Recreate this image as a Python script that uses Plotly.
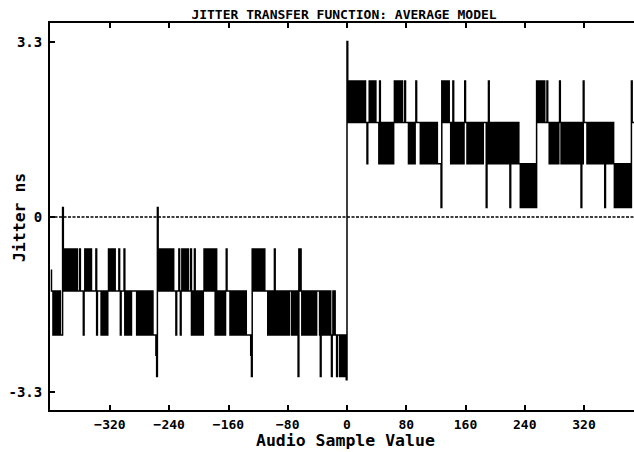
import plotly.graph_objects as go

# ---- data -------------------------------------------------------------------
# jitter levels (ns) seen in the chart, addressed by one-letter codes
level_codes = ["P", "T", "M", "W", "Z", "S", "C", "U", "B", "L", "D", "X", "Y"]
level_values = [3.30, 2.56, 1.78, 1.00, 0.18, 0.18, -1.00, -0.60, -1.39, -2.22, -2.60, -3.00, -3.06]

first_sample = -400  # audio sample value of the first point

# one code per audio sample value, block by block (16 samples per row)
block_m400 = "CBBLBLBLBLBLBLLL"
block_m384 = ("SUBUBUBUBUBUBUBU" "BUBUBBBUBBBBLBUB" "UBUBUBUBBBBBBULB" "BBBBLBLBLBLBLBUB"
              "UBUBUBUBBBBBUBLB" "BBBULBLBLBLBLBBB" "BBBBLBLBLBBLBLBL" "BLBLBBLBLBLLLLDX")
block_m256 = ("SUBUBUBUBUBUBUBU" "BUBUBUBBBLBBBUBL" "BUBUBUBUBUBBBULB" "LBULBLBLBLBLBLBU"
              "BUBUBUBUBUBBUBLU" "BLBLBLBLBLBLBUBB" "BBLBLBLBBLBLBLBL" "BLBBLBLBLLLLLLDX")
block_m128 = ("UUBUBUBUBUBBUBUB" "UBBBBLBLBLBLBLUB" "LBLBLBBLBLBLBLBL" "BLBBBLBLBLBLBLXU"
              "BUBLBLBLBLBLBBLB" "LBLBLBLBBBBLXBLB" "LBLBLBLBLBLXLBLB" "LLXLLLXLXLXLXLXY")
block_p000 = ("PTMTMTMTMTMTMTMT" "MTMTMTMMTMMWMMTM" "TMTMTMTMMMMWTMWM" "WMWMWMWMWMWMWMWM"
              "TMTMTMTMTMTMMMTM" "MMMWMWMWMWMWMTMM" "MMMWMWMWMWMMWMWM" "WMWMWMWMWMWWWWWZ")
block_p128 = ("TMTMTMTMMTMMWMWT" "MWMWMWMWMWMWMWMT" "MMWMWMWMWMMWMWMW" "MWMWMWMWMMMMZMWT"
              "MWMWMWMWMWMWMMWM" "WMWMWMWMWMWMZMWM" "WMWMWMWMWWZWZWZW" "ZWZWZWZWWZWZWZWZ")
block_p256 = ("TMTMTMTMTMTMMMTM" "MWMWMWMWMWMWMWMT" "MWMWMWMWMWMMWMWM" "WMWMWMWMWMWMZMWT"
              "MMMMWMWMWMWMWMWM" "WMWMWMWMWMWMZMWM" "WMWMWMWMWZWZWZWZ" "WZWZWZWZWZWZWZWZ")
block_p384 = "TMMMMMM"

x_tick_values = [-320, -240, -160, -80, 0, 80, 160, 240, 320]
y_tick_values = [-3.3, 0, 3.3]
y_tick_labels = ["-3.3", "0", "3.3"]

title_text = "JITTER TRANSFER FUNCTION: AVERAGE MODEL"
x_title = "Audio Sample Value"
y_title = "Jitter ns"

# ---- build the series ---------------------------------------------------------
level_of = dict(zip(level_codes, level_values))
codes = (block_m400 + block_m384 + block_m256 + block_m128
         + block_p000 + block_p128 + block_p256 + block_p384)
jitter = [level_of[c] for c in codes]
samples = [first_sample + k for k in range(len(jitter))]

FONT = "DejaVu Sans Mono"

fig = go.Figure()
fig.add_trace(go.Scatter(
    x=samples, y=jitter, mode="lines",
    line=dict(color="black", width=1.5, shape="hv"),
    showlegend=False, hoverinfo="x+y",
))

# dotted zero line
fig.add_shape(type="line", xref="paper", yref="y", x0=0, x1=1, y0=0, y1=0,
              line=dict(color="black", width=1.5, dash="3px,1.5px"), layer="below")

axis_common = dict(
    showgrid=False, zeroline=False, showline=True, linecolor="black", linewidth=2,
    ticks="inside", ticklen=5, tickwidth=2, tickcolor="black", automargin=False,
)

fig.update_layout(
    width=634, height=452,
    margin=dict(l=50, r=0, t=23, b=42, autoexpand=False),
    paper_bgcolor="white", plot_bgcolor="white",
    title=dict(text=title_text, x=0.5426, xref="container", xanchor="center",
               y=1 - 14 / 452, yref="container", yanchor="middle",
               font=dict(family=FONT, size=13, color="black", weight="bold")),
    xaxis=dict(range=[-401, 387.5], tickvals=x_tick_values, mirror="ticks",
               ticklabelstandoff=1,
               tickfont=dict(family=FONT, size=13, color="black", weight="bold"),
               **axis_common),
    yaxis=dict(range=[-3.63, 3.65], tickvals=y_tick_values, ticktext=y_tick_labels,
               ticklabelstandoff=3,
               tickfont=dict(family=FONT, size=14, color="black", weight="bold"),
               **axis_common),
    annotations=[
        dict(text=x_title, xref="paper", yref="paper", x=0.506, y=-0.080,
             xanchor="center", yanchor="middle", showarrow=False,
             font=dict(family=FONT, size=16.5, color="black", weight="bold")),
        dict(text=y_title, xref="paper", yref="paper", x=-0.053, y=0.496,
             xanchor="center", yanchor="middle", showarrow=False, textangle=-90,
             font=dict(family=FONT, size=16.5, color="black", weight="bold")),
    ],
)

fig.write_html("out.html", config={"displayModeBar": False},
               post_script="document.body.style.margin='0';document.body.style.overflow='hidden';")
